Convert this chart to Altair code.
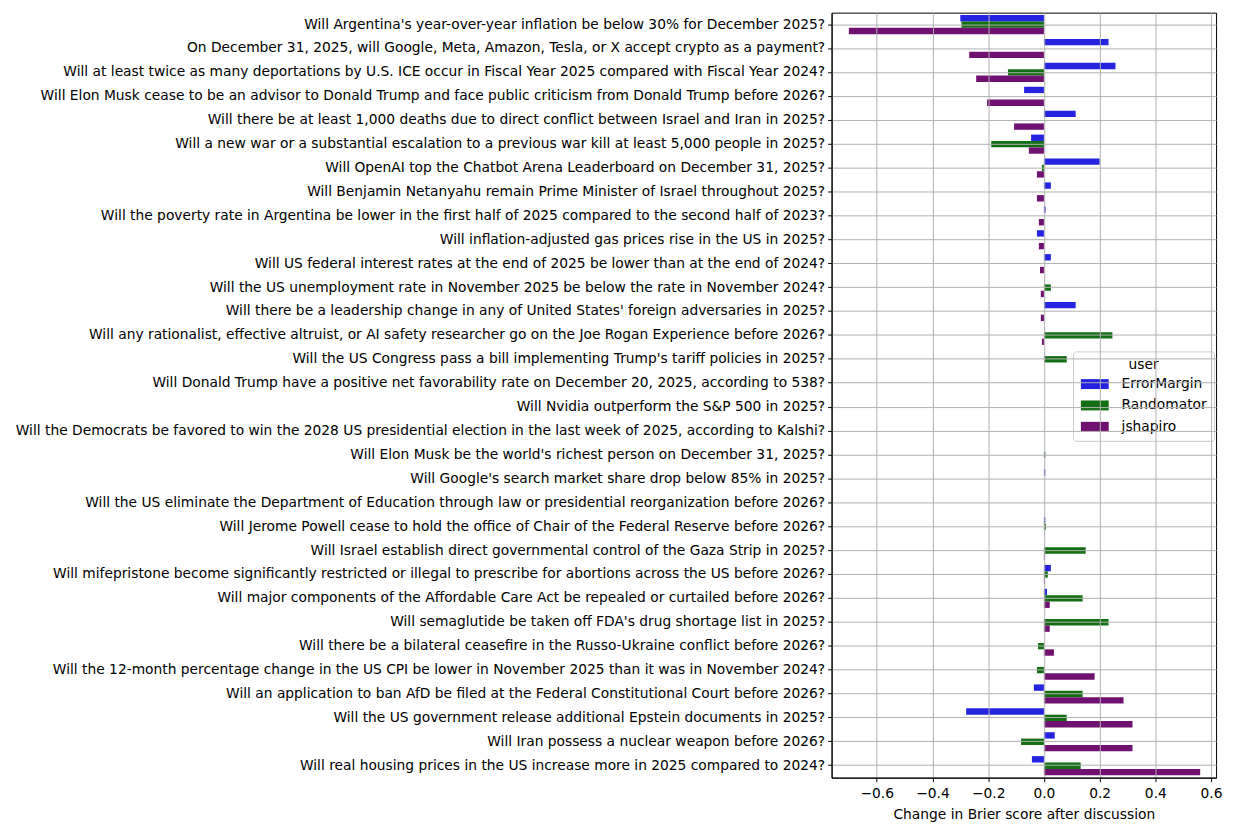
import altair as alt
import pandas as pd

questions = [
    "Will Argentina's year-over-year inflation be below 30% for December 2025?",
    "On December 31, 2025, will Google, Meta, Amazon, Tesla, or X accept crypto as a payment?",
    "Will at least twice as many deportations by U.S. ICE occur in Fiscal Year 2025 compared with Fiscal Year 2024?",
    "Will Elon Musk cease to be an advisor to Donald Trump and face public criticism from Donald Trump before 2026?",
    "Will there be at least 1,000 deaths due to direct conflict between Israel and Iran in 2025?",
    "Will a new war or a substantial escalation to a previous war kill at least 5,000 people in 2025?",
    "Will OpenAI top the Chatbot Arena Leaderboard on December 31, 2025?",
    "Will Benjamin Netanyahu remain Prime Minister of Israel throughout 2025?",
    "Will the poverty rate in Argentina be lower in the first half of 2025 compared to the second half of 2023?",
    "Will inflation-adjusted gas prices rise in the US in 2025?",
    "Will US federal interest rates at the end of 2025 be lower than at the end of 2024?",
    "Will the US unemployment rate in November 2025 be below the rate in November 2024?",
    "Will there be a leadership change in any of United States' foreign adversaries in 2025?",
    "Will any rationalist, effective altruist, or AI safety researcher go on the Joe Rogan Experience before 2026?",
    "Will the US Congress pass a bill implementing Trump's tariff policies in 2025?",
    "Will Donald Trump have a positive net favorability rate on December 20, 2025, according to 538?",
    "Will Nvidia outperform the S&P 500 in 2025?",
    "Will the Democrats be favored to win the 2028 US presidential election in the last week of 2025, according to Kalshi?",
    "Will Elon Musk be the world's richest person on December 31, 2025?",
    "Will Google's search market share drop below 85% in 2025?",
    "Will the US eliminate the Department of Education through law or presidential reorganization before 2026?",
    "Will Jerome Powell cease to hold the office of Chair of the Federal Reserve before 2026?",
    "Will Israel establish direct governmental control of the Gaza Strip in 2025?",
    "Will mifepristone become significantly restricted or illegal to prescribe for abortions across the US before 2026?",
    "Will major components of the Affordable Care Act be repealed or curtailed before 2026?",
    "Will semaglutide be taken off FDA's drug shortage list in 2025?",
    "Will there be a bilateral ceasefire in the Russo-Ukraine conflict before 2026?",
    "Will the 12-month percentage change in the US CPI be lower in November 2025 than it was in November 2024?",
    "Will an application to ban AfD be filed at the Federal Constitutional Court before 2026?",
    "Will the US government release additional Epstein documents in 2025?",
    "Will Iran possess a nuclear weapon before 2026?",
    "Will real housing prices in the US increase more in 2025 compared to 2024?",
]

users = ["ErrorMargin", "Randomator", "jshapiro"]
colors = ["#2424e0", "#136f13", "#701070"]

error_margin = [-0.300, 0.232, 0.257, -0.071, 0.114, -0.046, 0.200, 0.025,
                0.006, -0.025, 0.025, 0.0, 0.114, 0.0, 0.0, 0.0,
                0.0, 0.0, 0.0, 0.005, 0.0, 0.005, 0.0, 0.025,
                0.011, 0.0, 0.0, 0.0, -0.036, -0.279, 0.039, -0.043]
randomator = [-0.296, 0.0, -0.129, 0.0, 0.0, -0.189, -0.007, 0.0,
              0.0, 0.0, 0.0, 0.025, 0.0, 0.246, 0.082, 0.0,
              0.0, 0.0, 0.005, 0.0, 0.0, 0.007, 0.150, 0.014,
              0.139, 0.232, -0.021, -0.025, 0.139, 0.082, -0.082, 0.132]
jshapiro = [-0.700, -0.268, -0.243, -0.204, -0.107, -0.054, -0.025, -0.025,
            -0.018, -0.018, -0.014, -0.011, -0.011, -0.007, 0.0, 0.0,
            0.0, 0.0, 0.0, 0.0, 0.0, 0.0, 0.003, 0.004,
            0.021, 0.021, 0.036, 0.182, 0.286, 0.318, 0.318, 0.561]

x_ticks = [-0.6, -0.4, -0.2, 0.0, 0.2, 0.4, 0.6]

rows = []
for u, vals in zip(users, [error_margin, randomator, jshapiro]):
    for q, v in zip(questions, vals):
        rows.append({"question": q, "user": u, "value": v})
df = pd.DataFrame(rows)

FONT = "DejaVu Sans"

chart = alt.Chart(df).mark_bar(opacity=1).encode(
    x=alt.X(
        "value:Q",
        scale=alt.Scale(domain=[-0.762, 0.618], nice=False, zero=False),
        axis=alt.Axis(
            values=x_ticks,
            labelExpr="replace(format(datum.value, '.1f'), '-', '\u2212')",
            title="Change in Brier score after discussion",
            grid=True,
            gridColor="#b0b0b0",
            gridWidth=1,
            zindex=1,
            labelPadding=5,
            titlePadding=7,
        ),
    ),
    y=alt.Y(
        "question:N",
        sort=questions,
        scale=alt.Scale(paddingInner=0.2, paddingOuter=0.1),
        axis=alt.Axis(
            title=None,
            grid=True,
            gridColor="#b0b0b0",
            gridWidth=1,
            bandPosition=0.5,
            labelLimit=1000,
            zindex=1,
            labelPadding=3,
        ),
    ),
    yOffset=alt.YOffset("user:N", sort=users, scale=alt.Scale(paddingInner=0, paddingOuter=0)),
    color=alt.Color(
        "user:N",
        sort=users,
        scale=alt.Scale(domain=users, range=colors),
        legend=alt.Legend(
            title="user",
            orient="none",
            legendX=243,
            legendY=341,
            titleAnchor="middle",
            symbolType="M -2.8 -1 H 2.8 V 1 H -2.8 Z",
            symbolSize=100,
            symbolStrokeWidth=0,
            symbolOpacity=1,
            symbolOffset=8,
            labelOffset=20,
            rowPadding=6.5,
            padding=7,
            fillColor="rgba(255,255,255,0.8)",
            strokeColor="#cccccc",
            cornerRadius=3,
        ),
    ),
).properties(
    width=387,
    height=770,
    padding={"left": 7, "top": 2, "right": 5, "bottom": 5},
).configure_view(
    stroke="black",
    strokeWidth=1,
).configure_axis(
    labelFont=FONT,
    titleFont=FONT,
    labelFontSize=13.9,
    titleFontSize=13.9,
    labelColor="black",
    titleColor="black",
    titleFontWeight="normal",
    tickColor="black",
    tickSize=4,
    domainColor="black",
).configure_legend(
    labelFont=FONT,
    titleFont=FONT,
    labelFontSize=13.9,
    titleFontSize=13.9,
    labelColor="black",
    titleColor="black",
    titleFontWeight="normal",
)

chart.save("out.html", embed_options={"renderer": "svg", "actions": False})
